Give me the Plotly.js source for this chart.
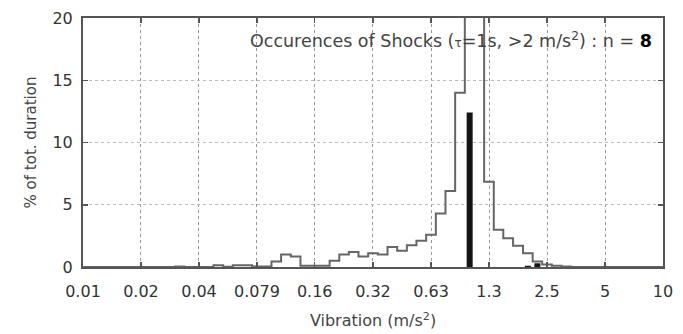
<!DOCTYPE html>
<html><head><meta charset="utf-8">
<script src="https://cdn.plot.ly/plotly-3.0.1.min.js"></script>
<style>html,body{margin:0;padding:0;background:#fff}</style>
</head><body><div id="chart" style="width:683px;height:334px"></div>
<script>
// Bin centres of the vibration histogram (m/s^2), 20 bins per decade
const binCenters = [0.01,0.0112,0.0126,0.0141,0.0158,0.0178,0.02,0.0224,0.0251,0.0282,
  0.0316,0.0355,0.0398,0.0447,0.0501,0.0562,0.0631,0.0708,0.0794,0.0891,
  0.1,0.112,0.126,0.141,0.158,0.178,0.2,0.224,0.251,0.282,
  0.316,0.355,0.398,0.447,0.501,0.562,0.631,0.708,0.794,0.891,
  1.0,1.12,1.26,1.41,1.58,1.78,2.0,2.24,2.51,2.82,
  3.16,3.55,3.98,4.47,5.01,5.62,6.31,7.08,7.94,8.91,10];
// % of total duration per bin
const durationPct = [0,0,0,0,0,0,0,0,0,0,
  0.05,0,0,0,0.15,0.02,0.15,0.15,0.05,0.05,
  0.45,1.0,0.85,0.1,0.1,0.1,0.5,1.0,1.2,0.85,
  1.1,1.0,1.6,1.3,1.75,2.1,2.6,4.3,6.1,14.0,
  40,30,6.85,3.0,2.3,1.7,1.1,0.45,0.2,0.1,
  0.05,0,0,0,0,0,0,0,0,0,0];
// Shock occurrences
const shockCenters = [1.0, 2.0, 2.24];
const shockPct = [12.4, 0.1, 0.3];
// Axis ticks
const xTickVals = [0.01,0.01995,0.0398,0.0794,0.158,0.316,0.631,1.259,2.512,5.012,10];
const xTickText = ['0.01','0.02','0.04','0.079','0.16','0.32','0.63','1.3','2.5','5','10'];
const yTickVals = [0,5,10,15,20];

const sx = [], sy = [];
shockCenters.forEach((c,i)=>{ sx.push(c,c,null); sy.push(0,shockPct[i],null); });

const traces = [
  {x: binCenters, y: durationPct, type:'scatter', mode:'lines',
   line:{shape:'hvh', color:'#666', width:2}, hoverinfo:'skip'},
  {x: sx, y: sy, type:'scatter', mode:'lines',
   line:{color:'#141414', width:6}, hoverinfo:'skip'}
];

const fam = 'DejaVu Sans, Verdana, sans-serif';
const layout = {
  width:683, height:334,
  margin:{l:83, r:20, t:18, b:67},
  paper_bgcolor:'#fff', plot_bgcolor:'#fff',
  showlegend:false, font:{family:fam, size:15, color:'#333'},
  xaxis:{type:'log', range:[-2,1], tickmode:'array', tickvals:xTickVals, ticktext:xTickText,
    showgrid:true, gridcolor:'#999', griddash:'dot', gridwidth:1,
    showline:true, linecolor:'#555', linewidth:2, mirror:'ticks',
    ticks:'inside', ticklen:5, tickcolor:'#555', tickwidth:1.5,
    ticklabelstandoff:9,
    tickfont:{family:fam, size:16, color:'#333'},
    title:{text:'Vibration (m/s<sup>2</sup>)', font:{family:fam, size:16, color:'#444'}, standoff:15},
    zeroline:false},
  yaxis:{range:[0,20], tickmode:'array', tickvals:yTickVals,
    showgrid:true, gridcolor:'#bbb', griddash:'dot', gridwidth:1,
    showline:true, linecolor:'#555', linewidth:2, mirror:'ticks',
    ticks:'inside', ticklen:5, tickcolor:'#555', tickwidth:1.5,
    ticklabelstandoff:5,
    tickfont:{family:fam, size:16, color:'#333'},
    title:{text:'% of tot. duration', font:{family:fam, size:15, color:'#444'}, standoff:12},
    zeroline:false},
  annotations:[{xref:'paper', yref:'paper', x:0.985, y:0.91, xanchor:'right', yanchor:'middle',
    showarrow:false,
    text:'Occurences of Shocks (<span style="font-size:12px">τ</span>=1s, >2 m/s<sup>2</sup>) : n = <b style="color:#000">8</b>',
    font:{family:fam, size:17.5, color:'#444'}}]
};
Plotly.newPlot('chart', traces, layout, {displayModeBar:false, staticPlot:true});
</script></body></html>
